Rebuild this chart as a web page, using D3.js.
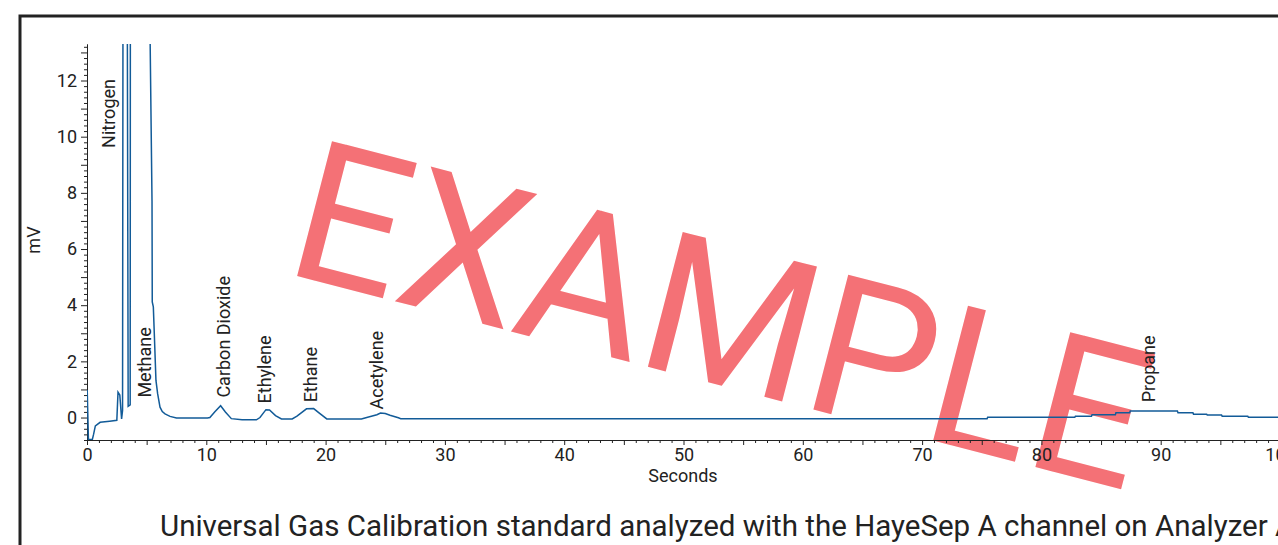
<!DOCTYPE html>
<html>
<head>
<meta charset="utf-8">
<script src="https://cdn.jsdelivr.net/npm/d3@7"></script>
<style>
body { margin: 0; background: #fff; overflow: hidden; }
svg { display: block; }
</style>
</head>
<body>
<div id="chart"></div>
<script>
// chromatogram trace, seconds vs mV
var seconds = [0, 0.02, 0.12, 0.45, 0.55, 0.7, 1.1, 1.9, 2.5, 2.6, 2.75, 2.9, 2.98, 3.08, 3.25, 3.45, 3.62, 3.66, 5.22, 5.45,
    5.47, 5.56, 5.64, 5.78, 5.92, 6.12, 6.31, 6.54, 6.96, 7.5, 10.1,
    10.3, 10.7, 11.2, 11.6, 12.1, 13.0, 14.2, 14.5, 15.0, 15.3, 15.8, 16.3,
    17.2, 17.6, 18.4, 19.0, 19.5, 20.1, 23.0, 23.6, 24.3, 24.6, 25.0, 25.4, 26.1, 26.3,
    75.45, 75.5, 82.8, 82.85, 84.2, 84.25, 86.2, 86.25, 87.4, 87.45, 91.4, 91.45, 92.7, 92.75,
    93.85, 93.9, 95.1, 95.15, 97.3, 97.35, 100];
var millivolts = [0.95, 0.95, -0.78, -0.78, -0.6, -0.3, -0.17, -0.13, -0.1, 0.9, 0.8, -0.05, 0.25, 40, 40, 0.4, 0.45, 40, 16, 7.7,
    4.12, 3.94, 3.0, 1.32, 0.85, 0.37, 0.21, 0.13, 0.04, -0.02, -0.02,
    0.0, 0.2, 0.42, 0.2, -0.04, -0.08, -0.08, 0.0, 0.28, 0.27, 0.07, -0.05,
    -0.05, 0.05, 0.31, 0.32, 0.15, -0.05, -0.05, 0.02, 0.1, 0.16, 0.14, 0.08, -0.01, -0.04,
    -0.04, 0.01, 0.01, 0.05, 0.05, 0.1, 0.1, 0.17, 0.17, 0.23, 0.23, 0.17, 0.17, 0.12,
    0.12, 0.09, 0.09, 0.05, 0.05, 0.01, 0.01];

// peak names with label anchor (seconds, mV)
var peakNames = ["Nitrogen", "Methane", "Carbon Dioxide", "Ethylene", "Ethane", "Acetylene", "Propane"];
var peakX = [2.35, 5.36, 12.0, 15.45, 19.3, 24.85, 89.5];
var peakY = [9.6, 0.71, 0.71, 0.5, 0.54, 0.29, 0.54];

var xLabels = [0, 10, 20, 30, 40, 50, 60, 70, 80, 90, 100];
var yLabels = [0, 2, 4, 6, 8, 10, 12];

var caption = "Universal Gas Calibration standard analyzed with the HayeSep A channel on Analyzer A";

var W = 1278, H = 545;
var svg = d3.select("#chart").append("svg")
    .attr("width", W)
    .attr("height", H);

// frame
svg.append("rect")
    .attr("x", 20).attr("y", 16)
    .attr("width", 1400).attr("height", 700)
    .style("fill", "none")
    .style("stroke", "#222")
    .style("stroke-width", 3);

var xScale = d3.scaleLinear().domain([0, 100]).range([87, 1280]),
    yScale = d3.scaleLinear().domain([-0.8, 13.3]).range([440, 44]);

var font = "Roboto, sans-serif";

// watermark sits under the chart
svg.append("text")
    .attr("transform", "translate(722,314)rotate(14.5)")
    .attr("text-anchor", "middle")
    .attr("dy", "0.355em")
    .style("font-family", font)
    .style("font-size", "196px")
    .style("fill", "rgb(244,113,118)")
    .text("EXAMPLE");

// x axis
svg.append("g")
    .attr("transform", "translate(0,440)")
    .call(d3.axisBottom(xScale).tickValues(xLabels).tickSize(5).tickPadding(3).tickSizeOuter(0));
svg.append("g")
    .attr("transform", "translate(0,440)")
    .call(d3.axisBottom(xScale).tickValues(d3.range(0, 101, 1).filter(function(d) { return d % 10 != 0; }))
        .tickSize(3).tickFormat("").tickSizeOuter(0))
    .selectAll(".tick line")
    .attr("y2", function(d) { return d % 5 == 0 ? 5 : 3; });

// y axis
svg.append("g")
    .attr("transform", "translate(87,0)")
    .call(d3.axisLeft(yScale).tickValues(yLabels).tickSize(6).tickPadding(4).tickSizeOuter(0));
var yMinor = [];
for (var k = -4; k <= 66; k++) { if (k % 10 != 0) yMinor.push(k / 5); }
svg.append("g")
    .attr("transform", "translate(87,0)")
    .call(d3.axisLeft(yScale).tickValues(yMinor).tickSize(3).tickFormat("").tickSizeOuter(0))
    .selectAll(".tick line")
    .attr("x2", function(d) { return Math.abs(d * 5 % 5) < 0.01 ? -6 : -3; });

svg.selectAll(".domain").style("stroke", "#222");
svg.selectAll(".tick line").style("stroke", "#222");
svg.selectAll(".tick text")
    .style("font-family", font)
    .style("font-size", "18px")
    .style("fill", "#222");

// axis titles
svg.append("text")
    .attr("x", 683)
    .attr("y", 482)
    .attr("text-anchor", "middle")
    .style("font-family", font)
    .style("font-size", "18px")
    .style("fill", "#222")
    .text("Seconds");

svg.append("text")
    .attr("text-anchor", "middle")
    .attr("transform", "translate(40,240)rotate(-90)")
    .style("font-family", font)
    .style("font-size", "18px")
    .style("fill", "#222")
    .text("mV");

// trace
svg.append("clipPath").attr("id", "plotclip")
    .append("rect")
    .attr("x", 87).attr("y", 44)
    .attr("width", 1200).attr("height", 396);

var trace = seconds.map(function(s, i) { return [s, millivolts[i]]; });
var line = d3.line()
    .x(function(d) { return xScale(d[0]); })
    .y(function(d) { return yScale(d[1]); });

svg.append("path")
    .datum(trace)
    .attr("clip-path", "url(#plotclip)")
    .attr("d", line)
    .style("fill", "none")
    .style("stroke", "#125b98")
    .style("stroke-width", "1.5");

// peak labels
svg.append("g").selectAll("text")
    .data(peakNames)
    .enter()
    .append("text")
    .attr("transform", function(d, i) {
        return "translate(" + xScale(peakX[i]) + "," + yScale(peakY[i]) + ")rotate(-90)";
    })
    .style("font-family", font)
    .style("font-size", "18px")
    .style("fill", "#222")
    .text(function(d) { return d; });

// caption
svg.append("text")
    .attr("x", 160)
    .attr("y", 536)
    .style("font-family", font)
    .style("font-size", "29.5px")
    .style("fill", "#222")
    .text(caption);
</script>
</body>
</html>
